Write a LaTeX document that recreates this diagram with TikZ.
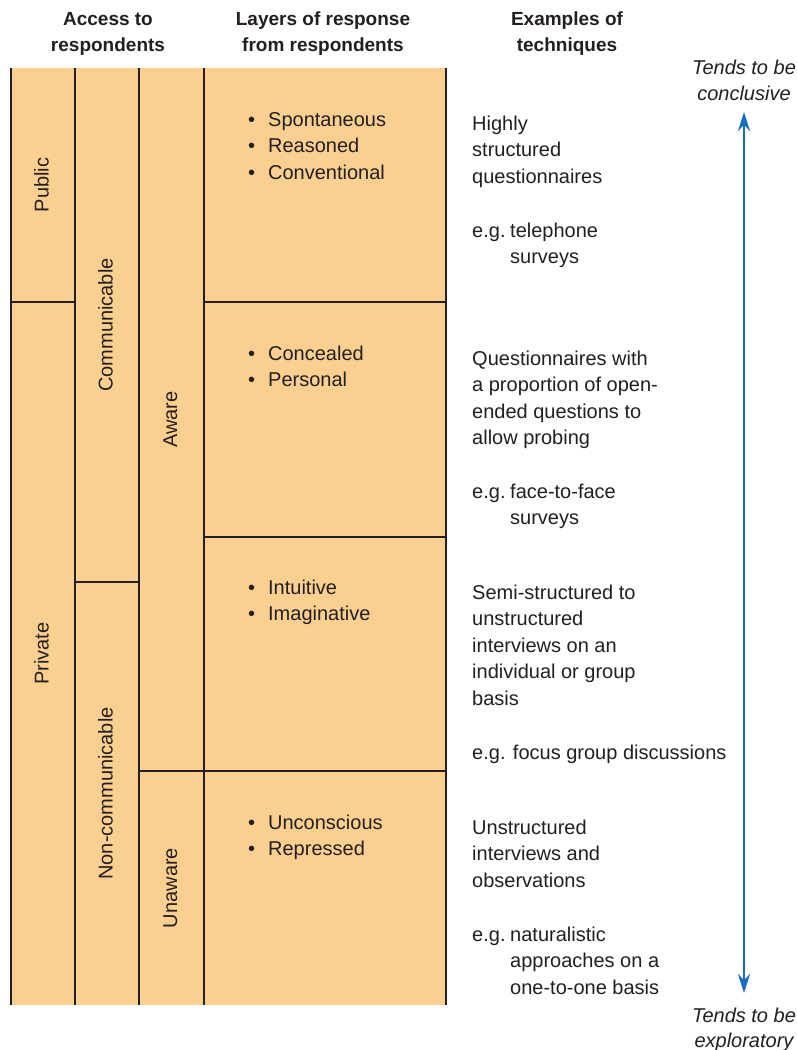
\documentclass[tikz,border=0pt]{standalone}
\usepackage{fontspec}
\setmainfont{Liberation Sans}
\usetikzlibrary{arrows.meta}
\definecolor{cellfill}{RGB}{251,207,143}
\definecolor{ink}{RGB}{35,31,32}
\definecolor{arrowblue}{RGB}{24,110,190}
\newcommand\textlines[4]{%
  \foreach \t [count=\i] in {#4} \node[txt] (#1-\i) at (#2,{#3+(\i-1)*26.6}) {\t};}
\newcommand\bul{\makebox[20pt][l]{\textbullet}}
\newcommand\eg{\makebox[38pt][l]{e.g.}}
\begin{document}
\begin{tikzpicture}[x=1pt,y=-1pt,
  txt/.style={inner sep=0pt, anchor=base west, text=ink, font=\fontsize{20}{26.6}\selectfont},
  hdr/.style={inner sep=0pt, anchor=base, text=ink, align=center, font=\fontsize{19}{26}\selectfont\bfseries},
  ital/.style={inner sep=0pt, anchor=base, text=ink, font=\fontsize{20}{26}\selectfont\itshape},
  vlab/.style={inner sep=0pt, anchor=base, rotate=90, text=ink, font=\fontsize{20}{24}\selectfont},
  rule/.style={draw=ink, line width=1.4pt},
  bigarrow/.style={draw=arrowblue, line width=2.6pt, {Stealth[length=19pt,width=12pt]}-{Stealth[length=19pt,width=12pt]}}
]
\useasboundingbox (0,0) rectangle (797,1050);

% headers
\node[hdr] (h1a) at (108,25) {Access to};
\node[hdr] (h1b) at (108,51) {respondents};
\node[hdr] (h2a) at (323,25) {Layers of response};
\node[hdr] (h2b) at (323,51) {from respondents};
\node[hdr] (h3a) at (567,25) {Examples of};
\node[hdr] (h3b) at (567,51) {techniques};

% table body
\fill[cellfill] (11,68) rectangle (446,1005);
\foreach \x in {11,75,139,204,446} \draw[rule] (\x,68) -- (\x,1005);
\draw[rule] (11,302) -- (75,302);
\draw[rule] (204,302) -- (446,302);
\draw[rule] (75,582) -- (139,582);
\draw[rule] (204,537) -- (446,537);
\draw[rule] (139,771) -- (446,771);

% rotated labels
\node[vlab] (public) at (48.5,185) {Public};
\node[vlab] (private) at (48.5,653.5) {Private};
\node[vlab] (comm) at (112.5,325) {Communicable};
\node[vlab] (noncomm) at (112.5,793.5) {Non-communicable};
\node[vlab] (aware) at (177,419.5) {Aware};
\node[vlab] (unaware) at (177,888) {Unaware};

% layers
\textlines{la}{248}{126}{\bul Spontaneous,\bul Reasoned,\bul Conventional}
\textlines{lb}{248}{360}{\bul Concealed,\bul Personal}
\textlines{lc}{248}{594}{\bul Intuitive,\bul Imaginative}
\textlines{ld}{248}{829}{\bul Unconscious,\bul Repressed}

% techniques
\textlines{ta}{472}{130}{Highly,structured,questionnaires}
\node[txt] (ta-eg) at (472,237) {\eg telephone};
\node[txt] (ta-eg2) at (510,263.6) {surveys};

\textlines{tb}{472}{365}{Questionnaires with,a proportion of open-,ended questions to,allow probing}
\node[txt] (tb-eg) at (472,498) {\eg face-to-face};
\node[txt] (tb-eg2) at (510,524.6) {surveys};

\textlines{tc}{472}{599}{Semi-structured to,unstructured,interviews on an,individual or group,basis}
\node[txt] (tc-eg) at (472,759) {e.g. focus group discussions};

\textlines{td}{472}{834}{Unstructured,interviews and,observations}
\node[txt] (td-eg) at (472,941) {\eg naturalistic};
\node[txt] (td-eg2) at (510,967.6) {approaches on a};
\node[txt] (td-eg3) at (510,994.2) {one-to-one basis};

% arrow and end labels
\node[ital] (concA) at (744,74) {Tends to be};
\node[ital] (concB) at (744,100) {conclusive};
\node[ital] (explA) at (744,1022) {Tends to be};
\node[ital] (explB) at (744,1047) {exploratory};
\coordinate (arrtop) at (744,112);
\coordinate (arrbot) at (744,993);
\draw[bigarrow] (arrtop) -- (arrbot);
\end{tikzpicture}
\end{document}
